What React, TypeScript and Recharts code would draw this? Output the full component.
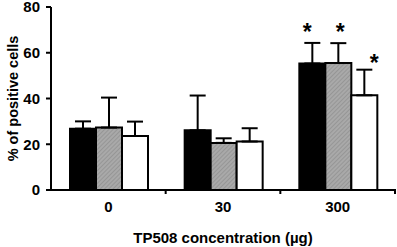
import { BarChart, Bar, XAxis, YAxis, ErrorBar, LabelList } from "recharts";

// TP508 doses
const categories = ["0", "30", "300"];

// % of positive cells, three groups per dose
const blackVals = [26.8, 26.1, 55.3];
const blackErr = [3.2, 15.2, 9.0];
const grayVals = [27.3, 20.6, 55.5];
const grayErr = [13.1, 2.0, 8.7];
const whiteVals = [23.6, 21.2, 41.4];
const whiteErr = [6.3, 5.8, 11.2];

// significance marks
const blackSig = [false, false, true];
const graySig = [false, false, true];
const whiteSig = [false, false, true];

const yTicks = [0, 20, 40, 60, 80];

const FONT = "'Liberation Sans', Arial, sans-serif";

const data = categories.map((c, i) => ({
  dose: c,
  black: blackVals[i],
  blackE: [0, blackErr[i]],
  gray: grayVals[i],
  grayE: [0, grayErr[i]],
  white: whiteVals[i],
  whiteE: [0, whiteErr[i]],
}));

function starLabel(errs: number[], vals: number[], sig: boolean[], dx: number, gap: number) {
  return (props: any) => {
    const { x, y, width, height, index } = props;
    if (!sig[index]) return null;
    const pxPerUnit = height / vals[index];
    const capY = y - errs[index] * pxPerUnit;
    return (
      <text
        x={x + width / 2 + dx}
        y={capY - gap + 13}
        textAnchor="middle"
        fontFamily={FONT}
        fontWeight="bold"
        fontSize={23}
        fill="#000"
      >
        *
      </text>
    );
  };
}

function DoseTick(props: any) {
  const { x, y, payload } = props;
  const half = 344 / categories.length / 2;
  return (
    <g>
      <line x1={x + half} y1={y - 9} x2={x + half} y2={y - 4} stroke="#000" strokeWidth={2} />
      <text x={x} y={y + 14} textAnchor="middle" fontFamily={FONT} fontWeight="bold" fontSize={15} fill="#000">
        {payload.value}
      </text>
    </g>
  );
}

export default function App() {
  return (
    <div style={{ position: "absolute", left: 0, top: 0, background: "#fff" }}>
      <svg width={0} height={0} style={{ position: "absolute" }}>
        <defs>
          <pattern id="hatch" patternUnits="userSpaceOnUse" width={3} height={3} patternTransform="rotate(45)">
            <rect width={3} height={3} fill="#a9a9a9" />
            <line x1={0} y1={0} x2={0} y2={3} stroke="#8a8a8a" strokeWidth={1.2} />
          </pattern>
        </defs>
      </svg>
      <BarChart
        width={397}
        height={247}
        data={data}
        margin={{ top: 7, right: 2, left: 0, bottom: 0 }}
        barCategoryGap={19}
        barGap={0}
      >
        <XAxis
          dataKey="dose"
          height={57}
          axisLine={{ stroke: "#000", strokeWidth: 2 }}
          tickLine={false}
          tick={<DoseTick />}
          label={{
            value: "TP508 concentration (µg)",
            position: "insideBottom",
            offset: 4,
            style: { fontFamily: FONT, fontWeight: "bold", fontSize: 15, fill: "#000" },
          }}
        />
        <YAxis
          width={51}
          domain={[0, 80]}
          ticks={yTicks}
          interval={0}
          axisLine={{ stroke: "#000", strokeWidth: 2 }}
          tickLine={{ stroke: "#000", strokeWidth: 2 }}
          tickSize={5}
          tickMargin={6}
          tick={{ fontFamily: FONT, fontWeight: "bold", fontSize: 15, fill: "#000" }}
          label={{
            value: "% of positive cells",
            angle: -90,
            position: "insideLeft",
            offset: 13,
            style: { textAnchor: "middle", fontFamily: FONT, fontWeight: "bold", fontSize: 14.5, fill: "#000" },
          }}
        />
        <Bar dataKey="black" fill="#000" stroke="#000" strokeWidth={2} isAnimationActive={false}>
          <ErrorBar dataKey="blackE" width={8} stroke="#000" strokeWidth={2} direction="y" />
          <LabelList dataKey="black" content={starLabel(blackErr, blackVals, blackSig, -5, 16)} />
        </Bar>
        <Bar dataKey="gray" fill="url(#hatch)" stroke="#000" strokeWidth={2} isAnimationActive={false}>
          <ErrorBar dataKey="grayE" width={8} stroke="#000" strokeWidth={2} direction="y" />
          <LabelList dataKey="gray" content={starLabel(grayErr, grayVals, graySig, 2, 16)} />
        </Bar>
        <Bar dataKey="white" fill="#fff" stroke="#000" strokeWidth={2} isAnimationActive={false}>
          <ErrorBar dataKey="whiteE" width={8} stroke="#000" strokeWidth={2} direction="y" />
          <LabelList dataKey="white" content={starLabel(whiteErr, whiteVals, whiteSig, 10, 12)} />
        </Bar>
      </BarChart>
    </div>
  );
}
